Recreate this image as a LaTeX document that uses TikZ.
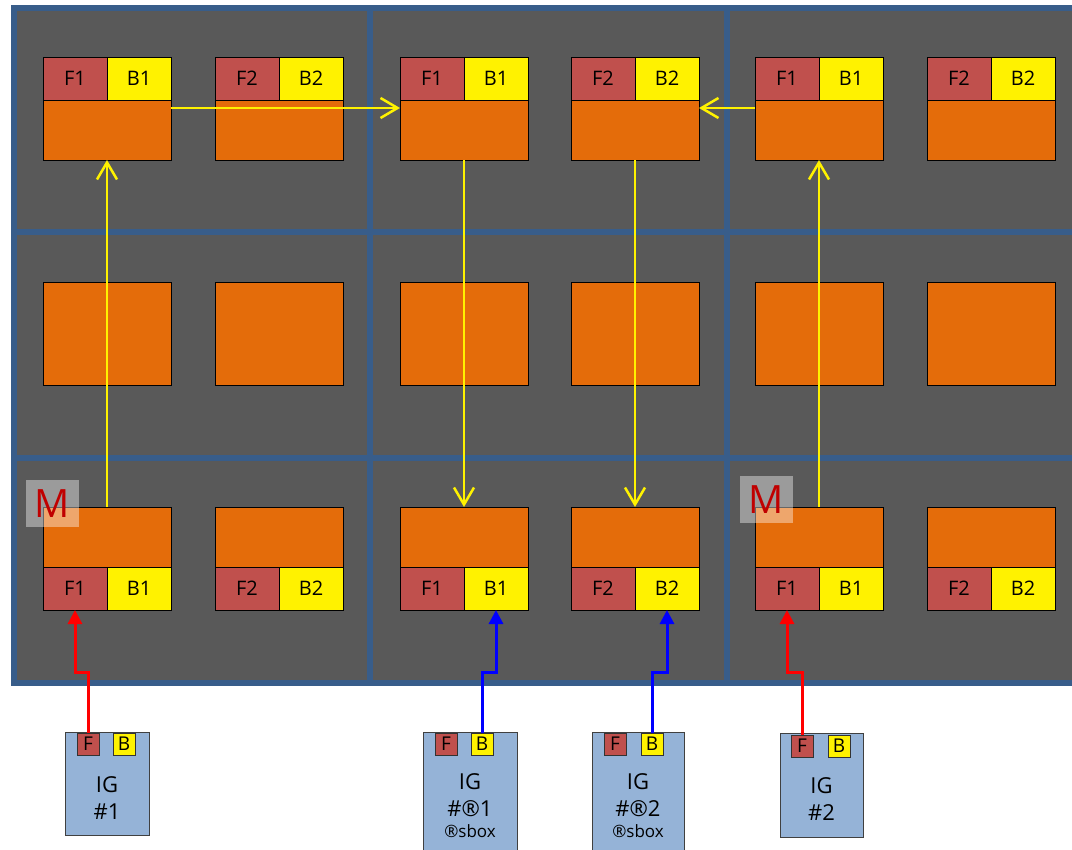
\documentclass[tikz,border=0pt]{standalone}
\usepackage{fontspec}
\setmainfont{Open Sans}
\usepackage{xcolor}
\usetikzlibrary{arrows.meta,positioning}

\definecolor{panelgray}{HTML}{595959}
\definecolor{gridblue}{HTML}{385D8A}
\definecolor{blockorange}{HTML}{E46C0A}
\definecolor{portred}{HTML}{C0504D}
\definecolor{igblue}{HTML}{95B3D7}
\definecolor{mred}{HTML}{C00000}

\begin{document}
\begin{tikzpicture}[
  x=1pt, y=-1pt,
  panel/.style={draw=gridblue, line width=5.5pt, fill=panelgray},
  body/.style={draw, line width=0.8pt, fill=blockorange, minimum width=128pt,
              minimum height=60pt, inner sep=0pt, outer sep=0pt, anchor=north west},
  fcell/.style={draw, line width=0.8pt, fill=portred, minimum width=64pt,
              minimum height=43pt, inner sep=0pt, outer sep=0pt,
              font=\fontsize{20}{22}\selectfont},
  bcell/.style={fcell, fill=yellow},
  igbox/.style={draw=black!75, line width=1pt, fill=igblue, inner sep=0pt,
              outer sep=0pt, anchor=north west},
  igport/.style={draw=black!80, line width=0.8pt, fill=portred, minimum size=22pt,
              inner sep=0pt, outer sep=0pt, anchor=north west,
              font=\fontsize{19}{20}\selectfont},
  igtext/.style={align=center, font=\fontsize{22}{27}\selectfont},
  subtext/.style={font=\fontsize{17}{19}\selectfont},
  mtag/.style={fill=white, fill opacity=0.4, text=mred, text opacity=1,
              minimum width=53pt, minimum height=47pt, inner sep=0pt,
              font=\fontsize{39}{39}\selectfont},
  flow/.style={yellow, line width=2.5pt, -{Straight Barb[length=17pt, width=20pt]}},
  feedF/.style={red, line width=3pt, -{Triangle[length=14pt, width=14pt]}},
  feedB/.style={feedF, blue}
]
\useasboundingbox (0,0) rectangle (1072,850);
\clip (0,0) rectangle (1072,850);

% 3x3 panels
\foreach \xl/\xr in {14/370, 370/727, 727/1085}
  \foreach \yt/\yb in {8/232, 232/458, 458/683}
    \draw[panel] (\xl,\yt) rectangle (\xr,\yb);

% blocks
\foreach \c/\xa/\xb in {1/43/215, 2/400/571, 3/755/927}
  \foreach \k/\x in {1/\xa, 2/\xb} {
    \node[fcell, anchor=north west] (tf\c\k) at (\x,57) {F\k};
    \node[bcell, right=0pt of tf\c\k] (tb\c\k) {B\k};
    \node[body] (tm\c\k) at (tf\c\k.south west) {};
    \node[body, minimum height=103pt] (mm\c\k) at (\x,282) {};
    \node[body] (bm\c\k) at (\x,507) {};
    \node[fcell, anchor=north west] (bf\c\k) at (bm\c\k.south west) {F\k};
    \node[bcell, right=0pt of bf\c\k] (bb\c\k) {B\k};
  }

\node[mtag] (m1) at (52.5,503.5) {M};
\node[mtag] (m3) at (766.5,499.5) {M};

% IG boxes
\node[igbox, minimum width=84pt, minimum height=103pt] (ig1) at (65,732) {};
\node[igport] (ig1f) at (77,733) {F};
\node[igport, fill=yellow] (ig1b) at (113,733) {B};
\node[igtext] (ig1t) at (107,798) {IG\\\#1};

\node[igbox, minimum width=94pt, minimum height=140pt] (ig2) at (423,732) {};
\node[igport] (ig2f) at (435,733) {F};
\node[igport, fill=yellow] (ig2b) at (471,733) {B};
\node[igtext] (ig2t) at (470,795) {IG\\\#®1};
\node[subtext] (ig2s) at (470,831) {®sbox};

\node[igbox, minimum width=92pt, minimum height=140pt] (ig3) at (592,732) {};
\node[igport] (ig3f) at (604,733) {F};
\node[igport, fill=yellow] (ig3b) at (641,733) {B};
\node[igtext] (ig3t) at (638,795) {IG\\\#®2};
\node[subtext] (ig3s) at (638,831) {®sbox};

\node[igbox, minimum width=83pt, minimum height=104pt] (ig4) at (780,733) {};
\node[igport] (ig4f) at (791,735) {F};
\node[igport, fill=yellow] (ig4b) at (828,735) {B};
\node[igtext] (ig4t) at (821.5,799) {IG\\\#2};

% data flow
\draw[flow] (bm11) -- (tm11);
\draw[flow] ([yshift=-8pt]tm11.north east) -- ([yshift=-8pt]tm21.north west);
\draw[flow] ([yshift=-8pt]tm31.north west) -- ([yshift=-8pt]tm22.north east);
\draw[flow] (tm21) -- (bm21);
\draw[flow] (tm22) -- (bm22);
\draw[flow] (bm31) -- (tm31);

% feeds from IG
\draw[feedF] (ig1f.north) -- ++(0,-61) -| (bf11.south);
\draw[feedB] (ig2b.north) -- ++(0,-61) -| (bb21.south);
\draw[feedB] (ig3b.north) -- ++(0,-61) -| (bb22.south);
\draw[feedF] (ig4f.north) -- ++(0,-63) -| (bf31.south);
\end{tikzpicture}
\end{document}
